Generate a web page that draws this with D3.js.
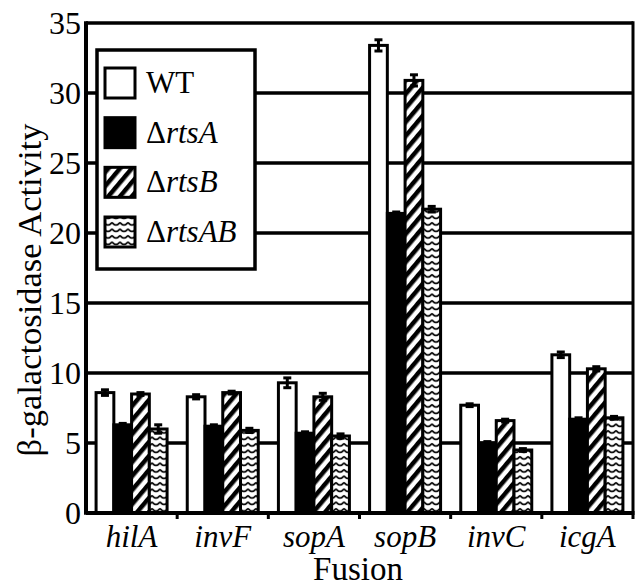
<!DOCTYPE html>
<html>
<head>
<meta charset="utf-8">
<script src="https://cdn.jsdelivr.net/npm/d3@7"></script>
<style>
  body { margin: 0; background: white; }
  svg { display: block; }
</style>
</head>
<body>
<svg></svg>
<script>
// fusions along the x axis
var fusions = ["hilA", "invF", "sopA", "sopB", "invC", "icgA"];

// strains (series)
var strains = ["WT", "rtsA", "rtsB", "rtsAB"];

// beta-galactosidase activity per strain, same order as fusions
var wtValues = [8.6, 8.3, 9.3, 33.4, 7.7, 11.3];
var rtsAValues = [6.3, 6.2, 5.7, 21.4, 5.0, 6.7];
var rtsBValues = [8.5, 8.6, 8.3, 30.9, 6.6, 10.3];
var rtsABValues = [6.0, 5.9, 5.5, 21.7, 4.5, 6.8];

// error bar half widths
var wtErrors = [0.2, 0.15, 0.35, 0.4, 0.1, 0.2];
var rtsAErrors = [0.1, 0.1, 0.1, 0.1, 0.1, 0.1];
var rtsBErrors = [0.1, 0.1, 0.25, 0.4, 0.1, 0.15];
var rtsABErrors = [0.3, 0.15, 0.15, 0.2, 0.1, 0.1];

var yTicks = [0, 5, 10, 15, 20, 25, 30, 35];

var width = { svg: 635 };
var height = { svg: 588 };

var plot = { left: 86, right: 633, top: 23, bottom: 513 };
var groupWidth = 71;
const serif = "'Liberation Serif'";

var svg = d3.select("svg").attr("width", width.svg).attr("height", height.svg);

var x, y, xInner;

const fillFromStrain = (strain) => {
  switch (strain) {
    case "WT":
      return "white";
    case "rtsA":
      return "black";
    case "rtsB":
      return "url(#hatch)";
    case "rtsAB":
      return "url(#wave)";
    default:
      return "white";
  }
};

function buildRows() {
  const valueLists = [wtValues, rtsAValues, rtsBValues, rtsABValues];
  const errorLists = [wtErrors, rtsAErrors, rtsBErrors, rtsABErrors];
  const rows = [];
  fusions.forEach((f, i) => {
    strains.forEach((s, j) => {
      rows.push({ fusion: f, strain: s, value: valueLists[j][i], err: errorLists[j][i] });
    });
  });
  return rows;
}

function drawPatterns() {
  const defs = svg.append("defs");

  const hatch = defs
    .append("pattern")
    .attr("id", "hatch")
    .attr("patternUnits", "userSpaceOnUse")
    .attr("width", 9)
    .attr("height", 9)
    .attr("patternTransform", "rotate(40)");
  hatch.append("rect").attr("width", 9).attr("height", 9).attr("fill", "white");
  hatch.append("rect").attr("width", 4.5).attr("height", 9).attr("fill", "black");

  const wave = defs
    .append("pattern")
    .attr("id", "wave")
    .attr("patternUnits", "userSpaceOnUse")
    .attr("width", 8)
    .attr("height", 6.5);
  wave.append("rect").attr("width", 8).attr("height", 6.5).attr("fill", "white");
  wave
    .append("path")
    .attr("d", "M0,1.5 Q4,6.5 8,1.5")
    .attr("fill", "none")
    .attr("stroke", "black")
    .attr("stroke-width", 1.6);
}

function drawAxes() {
  // gridlines behind the bars
  svg
    .selectAll("line.grid")
    .data(yTicks)
    .enter()
    .append("line")
    .attr("class", "grid")
    .attr("x1", plot.left)
    .attr("x2", plot.right)
    .attr("y1", (d) => y(d))
    .attr("y2", (d) => y(d))
    .attr("stroke", "black")
    .attr("stroke-width", 3.5);

  // right frame
  svg
    .append("line")
    .attr("x1", plot.right)
    .attr("x2", plot.right)
    .attr("y1", plot.top - 1.75)
    .attr("y2", plot.bottom)
    .attr("stroke", "black")
    .attr("stroke-width", 3);

  // y axis line
  svg
    .append("line")
    .attr("x1", plot.left)
    .attr("x2", plot.left)
    .attr("y1", plot.top - 1.75)
    .attr("y2", plot.bottom + 1.75)
    .attr("stroke", "black")
    .attr("stroke-width", 4);

  svg
    .selectAll("text.yLabel")
    .data(yTicks)
    .enter()
    .append("text")
    .attr("class", "yLabel")
    .attr("x", plot.left - 5)
    .attr("y", (d) => y(d) + 10.5)
    .attr("text-anchor", "end")
    .style("font-family", serif)
    .attr("font-size", 32)
    .text((d) => d);

  // small ticks between groups, below the x axis
  const step = x.step();
  svg
    .selectAll("line.xTick")
    .data(fusions)
    .enter()
    .append("line")
    .attr("class", "xTick")
    .attr("x1", (d) => x(d) + step)
    .attr("x2", (d) => x(d) + step)
    .attr("y1", plot.bottom)
    .attr("y2", plot.bottom + 6)
    .attr("stroke", "black")
    .attr("stroke-width", 3);

  svg
    .selectAll("text.xLabel")
    .data(fusions)
    .enter()
    .append("text")
    .attr("class", "xLabel")
    .attr("x", (d) => x(d) + step / 2)
    .attr("y", 547)
    .attr("text-anchor", "middle")
    .style("font-family", serif)
    .style("font-style", "italic")
    .attr("font-size", 31)
    .text((d) => d);

  svg
    .append("text")
    .attr("x", 358)
    .attr("y", 580)
    .attr("text-anchor", "middle")
    .style("font-family", serif)
    .attr("font-size", 33)
    .text("Fusion");

  svg
    .append("text")
    .attr("transform", "translate(41, 290) rotate(-90)")
    .attr("text-anchor", "middle")
    .style("font-family", serif)
    .attr("font-size", 34.5)
    .text("β-galactosidase Activity");
}

function drawBars(rows) {
  const step = x.step();
  const groupOffset = (step - groupWidth) / 2;

  const bar = svg
    .selectAll("g.bar")
    .data(rows)
    .enter()
    .append("g")
    .attr("class", "bar");

  bar
    .append("rect")
    .attr("x", (d) => x(d.fusion) + groupOffset + xInner(d.strain))
    .attr("y", (d) => y(d.value))
    .attr("width", xInner.bandwidth())
    .attr("height", (d) => y(0) - y(d.value))
    .attr("fill", (d) => fillFromStrain(d.strain))
    .attr("stroke", "black")
    .attr("stroke-width", 3);

  const cx = (d) => x(d.fusion) + groupOffset + xInner(d.strain) + xInner.bandwidth() / 2;
  const cap = 4;

  bar
    .append("line")
    .attr("x1", cx)
    .attr("x2", cx)
    .attr("y1", (d) => y(d.value - d.err))
    .attr("y2", (d) => y(d.value + d.err))
    .attr("stroke", "black")
    .attr("stroke-width", 3);

  bar
    .append("line")
    .attr("x1", (d) => cx(d) - cap)
    .attr("x2", (d) => cx(d) + cap)
    .attr("y1", (d) => y(d.value + d.err))
    .attr("y2", (d) => y(d.value + d.err))
    .attr("stroke", "black")
    .attr("stroke-width", 3);

  bar
    .append("line")
    .attr("x1", (d) => cx(d) - cap)
    .attr("x2", (d) => cx(d) + cap)
    .attr("y1", (d) => y(d.value - d.err))
    .attr("y2", (d) => y(d.value - d.err))
    .attr("stroke", "black")
    .attr("stroke-width", 3);

  // x axis drawn over the bar bottoms
  svg
    .append("line")
    .attr("x1", plot.left)
    .attr("x2", plot.right + 1.5)
    .attr("y1", plot.bottom)
    .attr("y2", plot.bottom)
    .attr("stroke", "black")
    .attr("stroke-width", 4);
}

function drawLegend() {
  const g = svg.append("g").attr("id", "legend");

  g.append("rect")
    .attr("x", 97)
    .attr("y", 50)
    .attr("width", 158)
    .attr("height", 219)
    .attr("fill", "white")
    .attr("stroke", "black")
    .attr("stroke-width", 3.5);

  const rowY = d3.scalePoint().domain(strains).range([68, 217]);

  g.selectAll("rect.swatch")
    .data(strains)
    .enter()
    .append("rect")
    .attr("class", "swatch")
    .attr("x", 105)
    .attr("y", (d) => rowY(d))
    .attr("width", 30)
    .attr("height", 30)
    .attr("fill", (d) => fillFromStrain(d))
    .attr("stroke", "black")
    .attr("stroke-width", 3);

  const label = g
    .selectAll("text.legendLabel")
    .data(strains)
    .enter()
    .append("text")
    .attr("class", "legendLabel")
    .attr("x", 146)
    .attr("y", (d) => rowY(d) + 25)
    .style("font-family", serif)
    .attr("font-size", 31);

  label.each(function (d) {
    const t = d3.select(this);
    if (d === "WT") {
      t.text("WT");
    } else {
      t.append("tspan").text("Δ");
      t.append("tspan").style("font-style", "italic").text(d);
    }
  });
}

function drawEverything() {
  x = d3.scaleBand().domain(fusions).range([plot.left, plot.right]);
  xInner = d3.scaleBand().domain(strains).range([0, groupWidth]);
  y = d3.scaleLinear().domain([0, 35]).range([plot.bottom, plot.top]);

  drawPatterns();
  drawAxes();
  drawBars(buildRows());
  drawLegend();
}

drawEverything();
</script>
</body>
</html>
